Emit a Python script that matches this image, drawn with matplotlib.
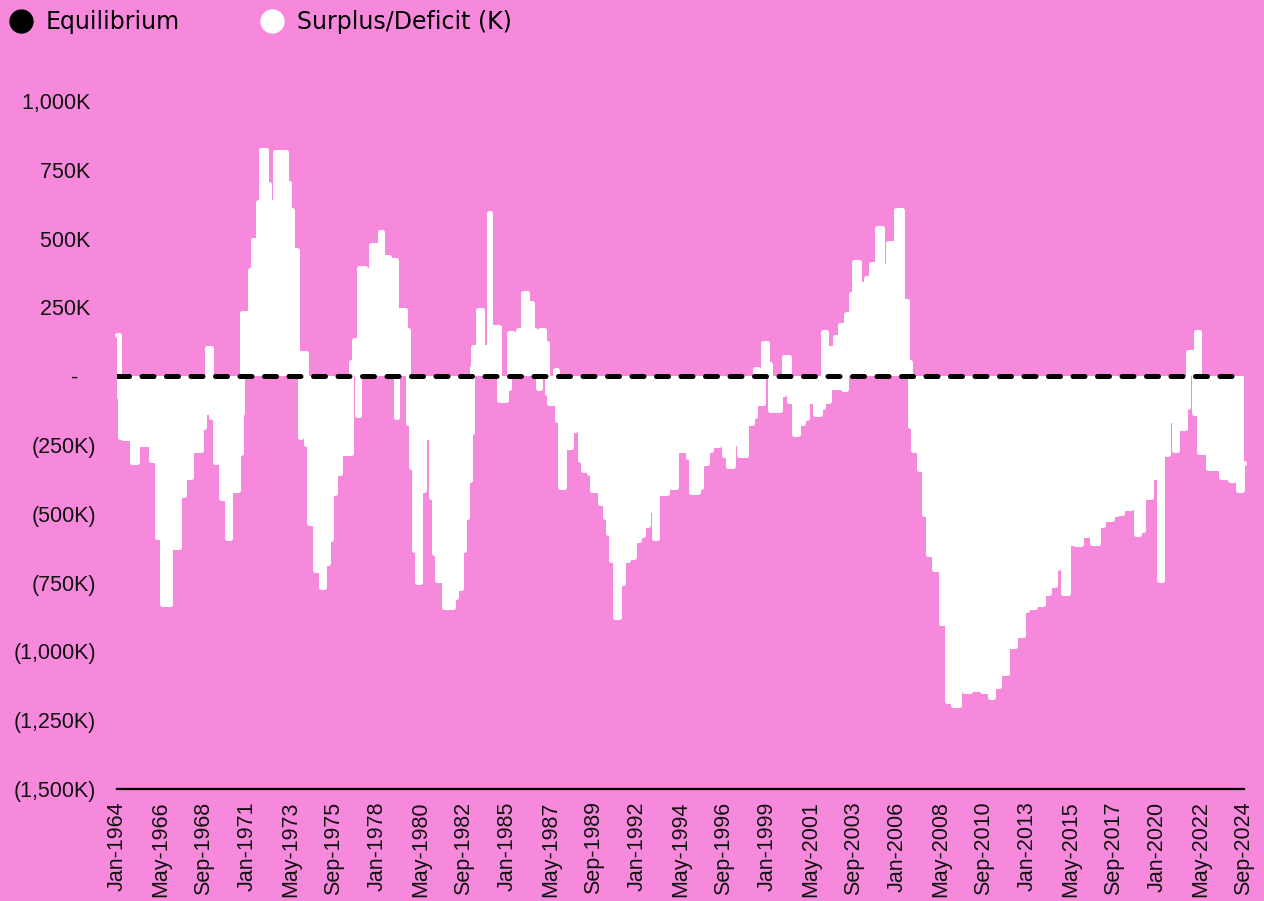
import matplotlib
matplotlib.use("Agg")
import matplotlib.pyplot as plt
from matplotlib.lines import Line2D
import pandas as pd

# Monthly surplus/deficit (thousands), keyed by months since Jan-1964
month_offset = [
    0, 1, 2, 4, 10, 13, 22, 26, 29, 34, 40, 43, 45, 48, 54, 56, 58, 61, 63, 67,
    71, 73, 78, 80, 81, 86, 88, 91, 93, 96, 98, 102, 109, 111, 113, 116, 118, 119, 122, 124,
    128, 132, 134, 136, 138, 141, 144, 151, 153, 155, 156, 160, 164, 170, 171, 176, 180, 181, 183, 186,
    188, 190, 192, 194, 196, 198, 201, 203, 205, 207, 211, 217, 219, 222, 224, 226, 228, 229, 230, 233,
    236, 240, 241, 247, 251, 253, 256, 259, 262, 265, 268, 270, 272, 273, 276, 278, 279, 283, 284, 286,
    289, 293, 296, 299, 301, 305, 307, 312, 315, 317, 319, 322, 324, 327, 330, 334, 337, 340, 343, 347,
    349, 355, 358, 361, 366, 369, 371, 375, 377, 381, 384, 389, 392, 395, 398, 402, 406, 410, 412, 414,
    417, 420, 422, 428, 431, 434, 437, 440, 443, 446, 451, 454, 456, 458, 460, 462, 464, 465, 467, 469,
    471, 474, 476, 479, 484, 487, 491, 494, 498, 503, 507, 510, 512, 514, 518, 521, 524, 528, 532, 536,
    540, 544, 547, 551, 553, 559, 564, 566, 570, 575, 580, 585, 588, 593, 598, 602, 606, 608, 611, 614,
    617, 619, 623, 627, 630, 634, 637, 643, 646, 649, 651, 655, 658, 660, 663, 668, 671, 673, 675, 679,
    683, 685, 690, 692, 696, 697, 699, 705, 713, 717, 719, 724, 727, 728,
]
surplus_k = [
    150, -75, -220, -225, -313, -245, -305, -585, -826, -622, -433, -280, -367, -269, -185, -131, 102, -149, -313, -444,
    -589, -415, -280, -135, 229, 385, 495, 633, 822, 700, 633, 815, 702, 604, 458, 58, -222, 84, -245, -534,
    -705, -767, -680, -590, -425, -353, -280, 51, 131, -142, 393, 385, 476, 524, 433, 422, -149, 193, 240, 167,
    -171, -331, -633, -749, -415, -222, -193, -440, -644, -742, -840, -804, -771, -633, -513, -378, -204, 33, 105, 240,
    105, 593, 178, -87, -44, 156, 47, 167, 302, 265, 167, 138, -44, 167, 120, -62, -98, 22, -160, -404,
    -258, -196, -160, -305, -342, -353, -415, -462, -513, -571, -669, -876, -753, -669, -658, -596, -578, -542, -487, -589,
    -425, -331, -404, -269, -233, -295, -422, -404, -316, -269, -251, -215, -287, -327, -242, -287, -171, -145, 25, -98,
    122, 44, -124, -65, 69, -91, -209, -171, -151, -91, -138, -113, 160, -91, 102, -40, 142, -38, 185, -47,
    225, 298, 415, 336, 356, 407, 538, 400, 485, 604, 273, 51, -182, -269, -338, -502, -647, -702, -895, -1182,
    -1196, -1118, -1144, -1091, -1138, -1144, -1164, -1124, -1080, -982, -942, -851, -840, -826, -787, -760, -696, -684, -787, -605,
    -553, -611, -578, -534, -605, -540, -520, -502, -498, -408, -480, -426, -572, -560, -439, -367, -330, -742, -281, -160,
    -269, -189, -112, 88, -135, 161, -275, -335, -367, -305, -378, -415, -316, -316,
]

y_ticks = [1000, 750, 500, 250, 0, -250, -500, -750, -1000, -1250, -1500]
y_labels = ["1,000K ", "750K ", "500K ", "250K ", "-   ", "(250K)", "(500K)", "(750K)",
            "(1,000K)", "(1,250K)", "(1,500K)"]
x_ticks = list(range(0, 729, 28))
x_labels = [(pd.Period("1964-01", "M") + k).strftime("%b-%Y") for k in x_ticks]

pink = "#F689DB"
plt.rcParams["font.family"] = ["Liberation Sans", "DejaVu Sans"]

fig = plt.figure(figsize=(12.64, 9.01), dpi=100, facecolor=pink)
ax = fig.add_axes([117 / 1264, 1 - 789 / 901, (1244 - 117) / 1264, (789 - 101) / 901])
ax.set_facecolor(pink)

ax.fill_between(month_offset, surplus_k, 0, step="post", color="white", lw=0, zorder=2)
ax.plot(month_offset, surplus_k, drawstyle="steps-post", color="white", lw=3.6,
        solid_joinstyle="round", solid_capstyle="round", zorder=3, clip_on=False)
ax.axhline(0, color="black", lw=3.6, dashes=(2.4, 2.5), dash_capstyle="round", zorder=4)

ax.set_xlim(0, 728)
ax.set_ylim(-1500, 1000)
ax.set_yticks(y_ticks)
ax.set_yticklabels(y_labels)
ax.set_xticks(x_ticks)
ax.set_xticklabels(x_labels, rotation=90)
ax.tick_params(axis="both", length=0, labelsize=15.5, colors="#111111")
ax.tick_params(axis="y", pad=15)
ax.tick_params(axis="x", pad=9)

for side in ["left", "right", "top"]:
    ax.spines[side].set_visible(False)
ax.spines["bottom"].set_linewidth(1.6)
ax.spines["bottom"].set_color("black")

handles = [
    Line2D([], [], ls="none", marker="o", markersize=16.5, markerfacecolor="black", markeredgecolor="black"),
    Line2D([], [], ls="none", marker="o", markersize=16.5, markerfacecolor="white", markeredgecolor="white"),
]
fig.legend(handles, ["Equilibrium", "Surplus/Deficit (K)"], loc="upper left",
           bbox_to_anchor=(9 / 1264, 1 - 10 / 901), ncol=2, frameon=False,
           prop={"family": "DejaVu Sans", "size": 17},
           handlelength=1.0, handletextpad=0.55, columnspacing=3.4, borderpad=0, borderaxespad=0)

fig.savefig("out.png", dpi=100, facecolor=pink)
